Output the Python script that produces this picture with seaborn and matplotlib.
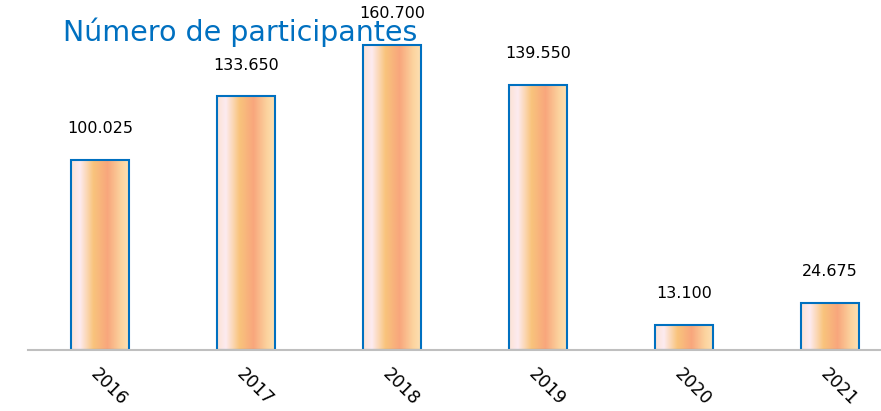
import numpy as np
import pandas as pd
import matplotlib
matplotlib.use("Agg")
import matplotlib.pyplot as plt
from matplotlib.colors import LinearSegmentedColormap
import seaborn as sns

years = ["2016", "2017", "2018", "2019", "2020", "2021"]
participants = [100025, 133650, 160700, 139550, 13100, 24675]
labels = ["100.025", "133.650", "160.700", "139.550", "13.100", "24.675"]

df = pd.DataFrame({"Year": years, "Participants": participants})

sns.set_style("white")
plt.rcParams['font.family'] = ['DejaVu Sans']

fig = plt.figure(figsize=(8.81, 4.11), dpi=100)
ax = fig.add_axes([28 / 881, 61 / 411, 853 / 881, 350 / 411])

sns.barplot(data=df, x="Year", y="Participants", width=0.4,
            edgecolor="#0070C0", linewidth=1.5, facecolor="none", ax=ax)

# horizontal gradient inside each bar
grad = LinearSegmentedColormap.from_list("bar", [
    (0.0, "#FCE2D4"), (0.15, "#FDEBF0"), (0.38, "#F9C47C"),
    (0.62, "#F8A67C"), (0.85, "#FCD39E"), (1.0, "#FDE2B6")])
strip = np.linspace(0, 1, 256).reshape(1, -1)
for i, p in enumerate(ax.patches):
    x0, y0 = p.get_x(), p.get_y()
    w, h = p.get_width(), p.get_height()
    im = ax.imshow(strip, cmap=grad, aspect="auto",
                   extent=[x0, x0 + w, y0, y0 + h], zorder=p.get_zorder() - 0.1)
    im.set_clip_path(p)
    ax.text(x0 + w / 2, y0 + h + 12500, labels[i],
            ha="center", va="bottom", fontsize=11.5, color="black")

ax.set_xlim(-0.493, 5.35)
ax.set_ylim(0, 184400)
ax.set_xlabel("")
ax.set_ylabel("")
ax.set_yticks([])
for s in ["top", "right", "left"]:
    ax.spines[s].set_visible(False)
ax.spines["bottom"].set_color("#BFBFBF")
ax.spines["bottom"].set_linewidth(1.5)
ax.tick_params(axis="x", length=0, pad=11, colors="black")
plt.setp(ax.get_xticklabels(), rotation=-45, ha="left", rotation_mode="anchor",
         fontsize=12.5, color="black")

fig.text(63 / 881, 1 - 32 / 411, "Número de participantes", color="#0070C0",
         fontsize=20.5, va="center", ha="left")

fig.savefig("out.png", dpi=100)
